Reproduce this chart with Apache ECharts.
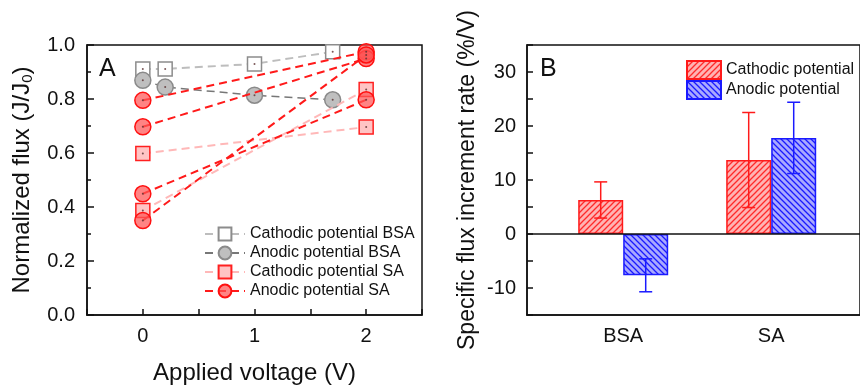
<!DOCTYPE html>
<html><head><meta charset="utf-8">
<script src="https://cdn.jsdelivr.net/npm/echarts@6/dist/echarts.min.js"></script>
<style>html,body{margin:0;padding:0;background:#fff}#c{width:860px;height:390px}</style>
</head><body><div id="c"></div>
<script>
// ---- Panel A data: applied voltage (V) vs normalized flux ----
const cathodicBSA = [[0, 0.911], [0.2, 0.911], [1, 0.93], [1.7, 0.975]];
const anodicBSA = [[0, 0.869], [0.2, 0.844], [1, 0.814], [1.7, 0.797]];
const cathodicSAStart = [0.598, 0.387];
const cathodicSAEnd = [0.696, 0.835];
const anodicSAStart = [0.795, 0.697, 0.449, 0.350];
const anodicSAEnd = [0.975, 0.950, 0.797, 0.963];
const saVoltages = [0, 2];
const xTicksA = [0, 1, 2];

// ---- Panel B data: specific flux increment rate ----
const groups = ['BSA', 'SA'];
const cathodicRate = [6.3, 13.7];
const cathodicErr = [3.35, 8.8];
const anodicRate = [-7.65, 17.8];
const anodicErr = [3.05, 6.6];
const yTicksB = [-10, 0, 10, 20, 30];

const BAR_W = 45;
const FONT = 'Liberation Sans, Arial, sans-serif';
const INK = '#111';

function hatch(bg, fg, dir) {
  const s = 6;
  const c = document.createElement('canvas');
  c.width = s; c.height = s;
  const g = c.getContext('2d');
  g.fillStyle = bg; g.fillRect(0, 0, s, s);
  g.strokeStyle = fg; g.lineWidth = 1.3;
  g.beginPath();
  if (dir > 0) {
    g.moveTo(0, s); g.lineTo(s, 0);
    g.moveTo(-1, 1); g.lineTo(1, -1);
    g.moveTo(s - 1, s + 1); g.lineTo(s + 1, s - 1);
  } else {
    g.moveTo(0, 0); g.lineTo(s, s);
    g.moveTo(-1, s - 1); g.lineTo(1, s + 1);
    g.moveTo(s - 1, -1); g.lineTo(s + 1, 1);
  }
  g.stroke();
  return { image: c, repeat: 'repeat' };
}

const redHatch = hatch('#ffb3b3', '#ff2a2a', 1);
const blueHatch = hatch('#a9a9ff', '#1a1aff', -1);

const names = ['Cathodic potential BSA', 'Anodic potential BSA', 'Cathodic potential SA', 'Anodic potential SA'];

const series = [];
series.push({
  name: names[0], type: 'line', xAxisIndex: 0, yAxisIndex: 0, data: cathodicBSA,
  symbol: 'rect', symbolSize: 14, z: 3,
  lineStyle: { color: '#bdbdbd', width: 2, type: [8, 5] },
  itemStyle: { color: '#ffffff', borderColor: '#8c8c8c', borderWidth: 1.5 }
});
series.push({
  name: names[1], type: 'line', xAxisIndex: 0, yAxisIndex: 0, data: anodicBSA,
  symbol: 'circle', symbolSize: 16, z: 3,
  lineStyle: { color: '#777777', width: 1.5, type: [8, 5] },
  itemStyle: { color: '#bfbfbf', borderColor: '#8a8a8a', borderWidth: 1.5 }
});
cathodicSAStart.forEach((v, i) => {
  series.push({
    name: names[2], type: 'line', xAxisIndex: 0, yAxisIndex: 0,
    data: [[saVoltages[0], v], [saVoltages[1], cathodicSAEnd[i]]],
    symbol: 'rect', symbolSize: 14, z: 4,
    lineStyle: { color: '#ffb8b8', width: 2, type: [8, 5] },
    itemStyle: { color: '#ffc4c4', borderColor: '#ff2020', borderWidth: 1.5 }
  });
});
anodicSAStart.forEach((v, i) => {
  series.push({
    name: names[3], type: 'line', xAxisIndex: 0, yAxisIndex: 0,
    data: [[saVoltages[0], v], [saVoltages[1], anodicSAEnd[i]]],
    symbol: 'circle', symbolSize: 16, z: 5,
    lineStyle: { color: '#ff1a1a', width: 2, type: [8, 5] },
    itemStyle: { color: 'rgba(255,85,85,0.72)', borderColor: '#ff1010', borderWidth: 1.5 }
  });
});
const allPts = [].concat(cathodicBSA, anodicBSA,
  cathodicSAStart.map(v => [saVoltages[0], v]), cathodicSAEnd.map(v => [saVoltages[1], v]),
  anodicSAStart.map(v => [saVoltages[0], v]), anodicSAEnd.map(v => [saVoltages[1], v]));
series.push({
  name: 'dots', type: 'scatter', xAxisIndex: 0, yAxisIndex: 0, data: allPts,
  symbolSize: 2, z: 6, itemStyle: { color: '#5a3030' }, silent: true
});

series.push({
  name: 'Cathodic potential', type: 'bar', xAxisIndex: 1, yAxisIndex: 1,
  data: cathodicRate.map((v, i) => [i + 1, v]),
  barWidth: BAR_W, barGap: '0%',
  itemStyle: { color: redHatch, borderColor: '#ff1a1a', borderWidth: 1.5 },
  markLine: {
    silent: true, symbol: ['none', 'none'], label: { show: false },
    lineStyle: { color: INK, width: 1.5, type: 'solid' },
    data: [{ yAxis: 0 }]
  }
});
series.push({
  name: 'Anodic potential', type: 'bar', xAxisIndex: 1, yAxisIndex: 1,
  data: anodicRate.map((v, i) => [i + 1, v]),
  barWidth: BAR_W, barGap: '0%',
  itemStyle: { color: blueHatch, borderColor: '#1a1aff', borderWidth: 1.5 }
});

function errSeries(vals, errs, color, dx) {
  return {
    type: 'custom', xAxisIndex: 1, yAxisIndex: 1, z: 10, silent: true,
    data: vals.map((v, i) => [i + 1, v + errs[i], v - errs[i]]),
    renderItem: function (params, api) {
      const top = api.coord([api.value(0), api.value(1)]);
      const bot = api.coord([api.value(0), api.value(2)]);
      const x = top[0] + dx;
      const cap = 6.5;
      const st = { stroke: color, lineWidth: 1.5 };
      return {
        type: 'group', children: [
          { type: 'line', shape: { x1: x, y1: top[1], x2: x, y2: bot[1] }, style: st },
          { type: 'line', shape: { x1: x - cap, y1: top[1], x2: x + cap, y2: top[1] }, style: st },
          { type: 'line', shape: { x1: x - cap, y1: bot[1], x2: x + cap, y2: bot[1] }, style: st }
        ]
      };
    }
  };
}
series.push(errSeries(cathodicRate, cathodicErr, '#ff1a1a', -BAR_W / 2));
series.push(errSeries(anodicRate, anodicErr, '#1a1aff', BAR_W / 2));

function line(show) { return { show: show, onZero: false, lineStyle: { color: INK, width: 1.5 } }; }
function tick(len) { return { show: true, inside: true, length: len, lineStyle: { color: INK, width: 1.5 } }; }
function minor() { return { show: true, splitNumber: 2, length: 4, lineStyle: { color: INK, width: 1.5 } }; }
const lbl = () => ({ color: INK, fontSize: 20, fontFamily: FONT });

const option = {
  animation: false,
  backgroundColor: '#fff',
  textStyle: { fontFamily: FONT },
  title: [
    { text: 'A', left: 94, top: 52, textStyle: { fontSize: 25, fontWeight: 'normal', color: INK, fontFamily: FONT } },
    { text: 'B', left: 535, top: 52, textStyle: { fontSize: 25, fontWeight: 'normal', color: INK, fontFamily: FONT } }
  ],
  grid: [
    { left: 87, top: 45, width: 335, height: 272, show: true, borderColor: INK, borderWidth: 1.5 },
    { left: 527, top: 45, width: 334, height: 270, show: true, borderColor: INK, borderWidth: 1.5 }
  ],
  legend: [
    {
      data: names, orient: 'vertical', left: 199, top: 221, itemWidth: 40, itemHeight: 16, itemGap: 3,
      textStyle: { fontSize: 16, color: INK, fontFamily: FONT }, selectedMode: false
    },
    {
      data: ['Cathodic potential', 'Anodic potential'], orient: 'vertical', left: 681, top: 55,
      itemWidth: 34, itemHeight: 18, itemGap: 0, icon: 'rect',
      textStyle: { fontSize: 16, color: INK, fontFamily: FONT }, selectedMode: false
    }
  ],
  xAxis: [
    {
      type: 'value', gridIndex: 0, position: 'bottom', min: -0.5, max: 2.5, interval: 0.5,
      axisLine: line(true), splitLine: { show: false },
      axisTick: tick(6),
      axisLabel: Object.assign({ margin: 11, customValues: xTicksA }, lbl()),
      name: 'Applied voltage (V)', nameLocation: 'middle', nameGap: 46,
      nameTextStyle: { fontSize: 24, color: INK, fontFamily: FONT }
    },
    {
      type: 'value', gridIndex: 1, position: 'bottom', min: 0.35, max: 2.6,
      axisLine: line(true), splitLine: { show: false }, axisTick: { show: false },
      axisLabel: Object.assign({ margin: 11, customValues: [1, 2], formatter: v => groups[Math.round(v) - 1] }, lbl())
    }
  ],
  yAxis: [
    {
      type: 'value', gridIndex: 0, position: 'left', min: 0, max: 1, interval: 0.2,
      axisLine: line(true), splitLine: { show: false },
      axisTick: tick(7), minorTick: minor(),
      axisLabel: Object.assign({ margin: 12, formatter: v => v.toFixed(1) }, lbl()),
      name: 'Normalized flux (J/J{sub|0})', nameLocation: 'middle', nameGap: 52,
      nameTextStyle: { fontSize: 24, color: INK, fontFamily: FONT,
        rich: { sub: { fontSize: 15, color: INK, fontFamily: FONT, verticalAlign: 'bottom', padding: [10, 0, 0, 0] } } }
    },
    {
      type: 'value', gridIndex: 1, position: 'left', min: -15, max: 35, interval: 5,
      axisLine: line(true), splitLine: { show: false },
      axisTick: tick(6),
      axisLabel: Object.assign({ margin: 11, customValues: yTicksB }, lbl()),
      name: 'Specific flux increment rate (%/V)', nameLocation: 'middle', nameGap: 48,
      nameTextStyle: { fontSize: 23, color: INK, fontFamily: FONT }
    }
  ],
  series: series
};

const chart = echarts.init(document.getElementById('c'));
chart.setOption(option);
</script>
</body></html>
